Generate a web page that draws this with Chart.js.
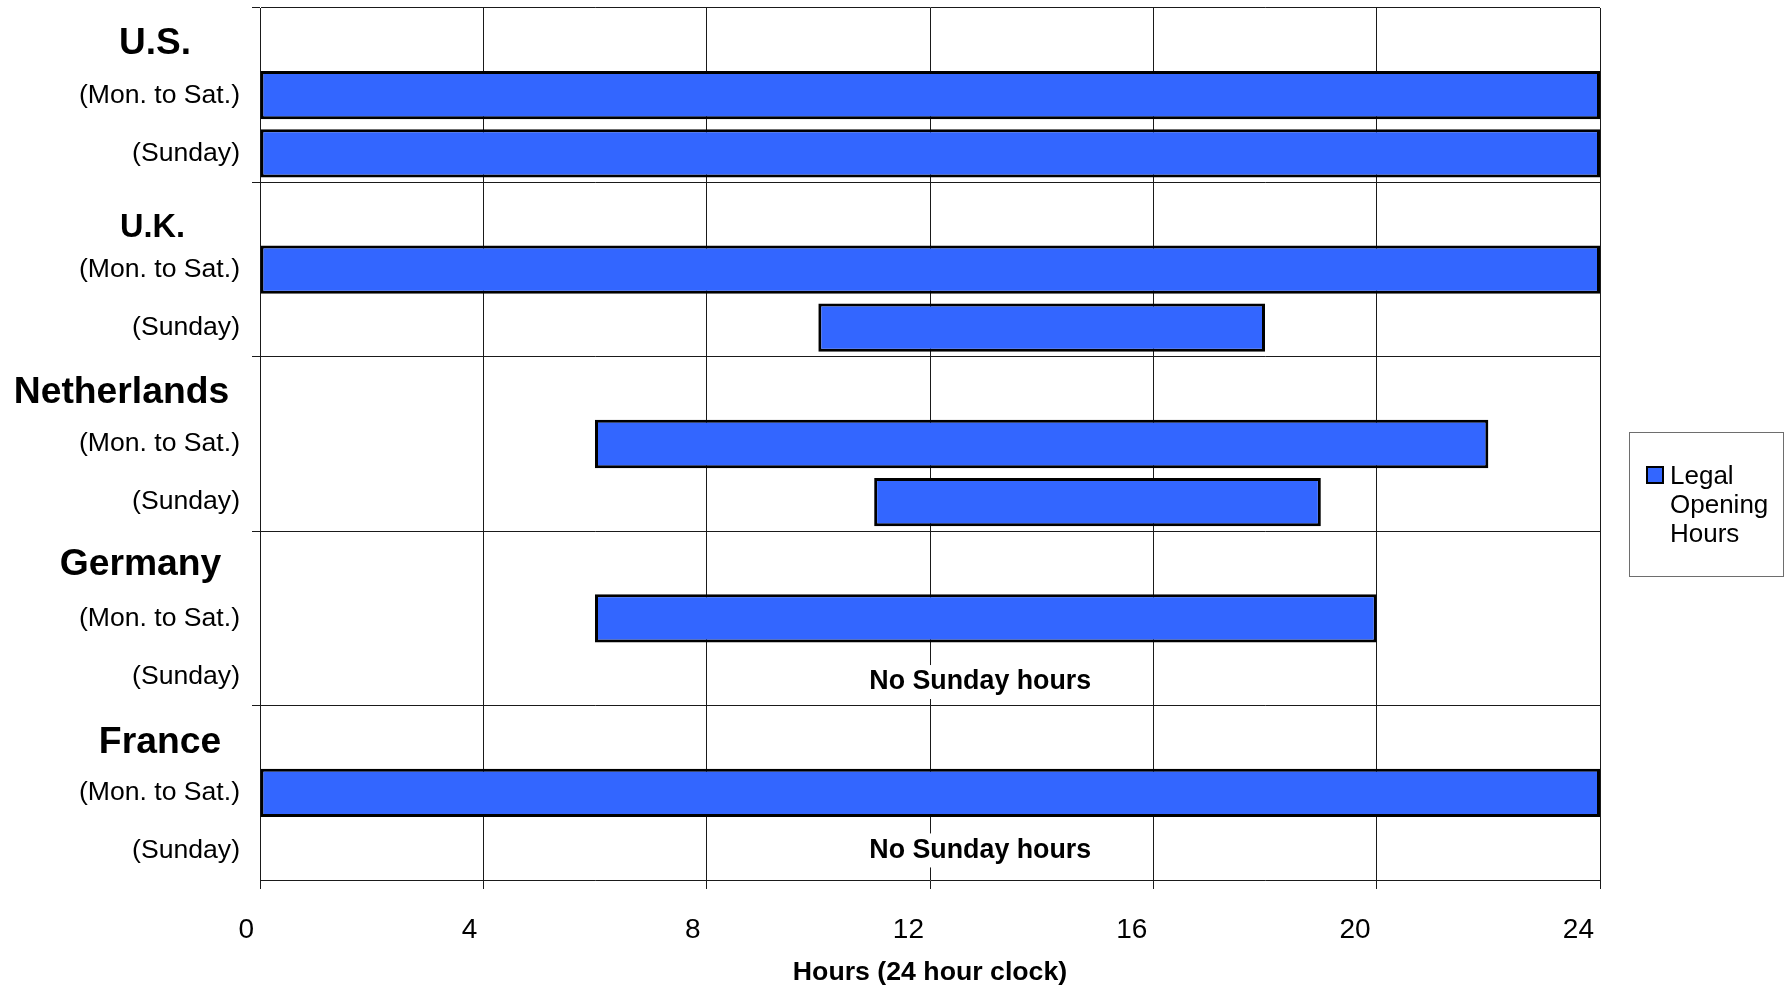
<!DOCTYPE html>
<html>
<head>
<meta charset="utf-8">
<script src="https://cdn.jsdelivr.net/npm/chart.js@4.4.1/dist/chart.umd.min.js"></script>
<style>
  html, body { margin: 0; padding: 0; background: #ffffff; }
  #wrap { width: 1785px; height: 986px; }
</style>
</head>
<body>
<div id="wrap"><canvas id="hoursChart" width="1785" height="986"></canvas></div>
<script>
// Legal shop opening hours by country (24 hour clock)
const countries   = ['U.S.', 'U.K.', 'Netherlands', 'Germany', 'France'];
const dayTypes    = ['(Mon. to Sat.)', '(Sunday)'];
const monSatOpen  = [0, 0, 6, 6, 0];
const monSatClose = [24, 24, 22, 20, 24];
const sundayOpen  = [0, 10, 11, null, null];
const sundayClose = [24, 18, 19, null, null];
const hourTicks   = [0, 4, 8, 12, 16, 20, 24];
const seriesLabel = 'Legal Opening Hours';
const noSundayText = 'No Sunday hours';
const axisTitle   = 'Hours (24 hour clock)';

const FONT = '"Liberation Sans", Arial, Helvetica, sans-serif';

// Three rows per country: heading, Monday-Saturday, Sunday
const rowLabels = [];
const rowSpans = [];
const rowKinds = [];
countries.forEach((name, i) => {
  rowLabels.push(name);
  rowSpans.push(null);
  rowKinds.push('country');

  rowLabels.push(dayTypes[0]);
  rowSpans.push([monSatOpen[i], monSatClose[i]]);
  rowKinds.push('day');

  rowLabels.push(dayTypes[1]);
  const closed = sundayOpen[i] === null;
  rowSpans.push(closed ? null : [sundayOpen[i], sundayClose[i]]);
  rowKinds.push(closed ? 'closed' : 'day');
});

// Country headings, "closed" notes and the boxed legend
const annotations = {
  id: 'annotations',
  afterDatasetsDraw(chart, args, opts) {
    const ctx = chart.ctx;
    const xs = chart.scales.x;
    const ys = chart.scales.y;
    ctx.save();
    ctx.textAlign = 'center';
    ctx.textBaseline = 'middle';
    rowKinds.forEach((kind, i) => {
      const yPix = ys.getPixelForValue(i);
      const p = opts.headings[Math.floor(i / 3)];
      if (kind === 'country') {
        ctx.font = 'bold ' + p.size + 'px ' + FONT;
        ctx.fillStyle = '#000';
        ctx.fillText(rowLabels[i], p.x, yPix + p.dy);
      } else if (kind === 'closed') {
        ctx.font = 'bold 26.8px ' + FONT;
        const cx = xs.getPixelForValue(opts.noteHour);
        const cy = yPix + p.noteDy;
        const w = ctx.measureText(noSundayText).width;
        ctx.fillStyle = '#ffffff';
        ctx.fillRect(cx - w / 2 - 3, cy - 17, w + 6, 34);
        ctx.fillStyle = '#000';
        ctx.fillText(noSundayText, cx, cy);
      }
    });

    // legend box
    const ds = chart.data.datasets[0];
    const L = opts.legend;
    const bx = chart.chartArea.right + L.gap;
    ctx.strokeStyle = '#6e6e6e';
    ctx.lineWidth = 1;
    ctx.strokeRect(bx + 0.5, L.top + 0.5, L.width, L.height);
    ctx.fillStyle = ds.backgroundColor;
    ctx.fillRect(bx + 18, L.top + 35, 16, 16);
    ctx.strokeStyle = '#000';
    ctx.lineWidth = 2;
    ctx.strokeRect(bx + 18, L.top + 35, 16, 16);
    ctx.fillStyle = '#000';
    ctx.textAlign = 'left';
    ctx.textBaseline = 'alphabetic';
    ctx.font = '26px ' + FONT;
    ds.label.split(' ').forEach((word, k) => {
      ctx.fillText(word, bx + 41, L.top + 52 + k * 29);
    });
    ctx.restore();
  }
};

new Chart(document.getElementById('hoursChart'), {
  type: 'bar',
  data: {
    labels: rowLabels,
    datasets: [{
      label: seriesLabel,
      data: rowSpans,
      backgroundColor: '#3366FF',
      borderColor: '#000000',
      borderWidth: 3,
      borderSkipped: false,
      categoryPercentage: 1.0,
      barPercentage: 0.83
    }]
  },
  options: {
    indexAxis: 'y',
    responsive: false,
    animation: false,
    devicePixelRatio: 1,
    layout: { padding: { left: 0, top: 8, right: 185, bottom: 0 }, autoPadding: false },
    plugins: {
      legend: { display: false },
      tooltip: { enabled: false },
      annotations: {
        noteHour: 12.9,
        headings: [
          { x: 155,   dy: 7,   size: 37,   noteDy: 3 },
          { x: 152.5, dy: 17,  size: 32.5, noteDy: 3 },
          { x: 121.5, dy: 7,   size: 37.3, noteDy: 3 },
          { x: 140.5, dy: 4,   size: 37.3, noteDy: 5.5 },
          { x: 160,   dy: 8,   size: 37.3, noteDy: -0.5 }
        ],
        legend: { gap: 29, top: 432, width: 154, height: 144 }
      }
    },
    scales: {
      x: {
        type: 'linear',
        position: 'bottom',
        min: 0,
        max: 24,
        afterBuildTicks(scale) {
          scale.ticks = hourTicks.map(v => ({ value: v }));
        },
        afterFit(scale) {
          scale.height = 106;
          scale.paddingLeft = 0;
          scale.paddingRight = 0;
        },
        grid: {
          color: '#1a1a1a',
          lineWidth: 1,
          drawTicks: true,
          tickLength: 9,
          tickColor: '#1a1a1a'
        },
        border: { display: true, color: '#1a1a1a', width: 1 },
        ticks: {
          color: '#000',
          font: { family: FONT, size: 28 },
          align: 'end',
          labelOffset: -6,
          padding: 24,
          maxRotation: 0,
          autoSkip: false
        },
        title: {
          display: true,
          text: axisTitle,
          color: '#000',
          font: { family: FONT, size: 26.7, weight: 'bold', lineHeight: 1.03 },
          padding: { top: 0, bottom: 0 }
        }
      },
      y: {
        type: 'category',
        position: 'left',
        offset: true,
        afterFit(scale) {
          scale.width = 260;
          scale.paddingTop = 0;
          scale.paddingBottom = 0;
        },
        grid: {
          offset: true,
          lineWidth: 1,
          color: ctx => (ctx.index % 3 === 0 ? '#1a1a1a' : 'rgba(0,0,0,0)'),
          tickColor: ctx => (ctx.index % 3 === 0 ? '#1a1a1a' : 'rgba(0,0,0,0)'),
          drawTicks: true,
          tickLength: 8
        },
        border: { display: true, color: '#1a1a1a', width: 1 },
        ticks: {
          autoSkip: false,
          color: '#000',
          font: { family: FONT, size: 26.6 },
          padding: 12,
          callback(value, index) {
            return rowKinds[index] === 'country' ? '' : rowLabels[index];
          }
        }
      }
    }
  },
  plugins: [annotations]
});
</script>
</body>
</html>
